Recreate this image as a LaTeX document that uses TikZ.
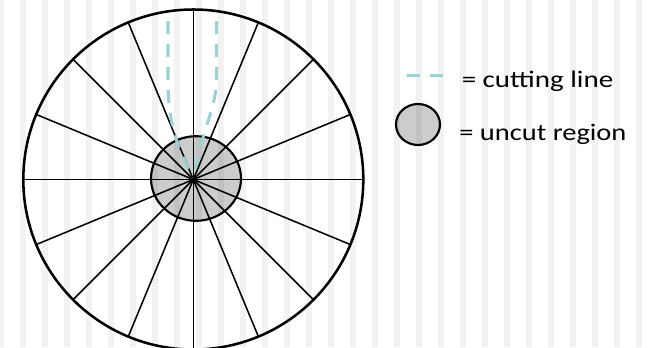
\documentclass[tikz,border=0pt]{standalone}
\usepackage{fontspec}
\setmainfont{Carlito}
\definecolor{stripe}{RGB}{242,242,242}
\definecolor{cutcol}{RGB}{155,210,214}
\tikzset{
  spoke/.style={line width=1.15pt, black},
  rim/.style={line width=1.9pt, black},
  uncut/.style={fill=black, fill opacity=0.2},
  uncutrim/.style={line width=1.6pt, black},
  cutline/.style={line width=2.3pt, cutcol, dash pattern=on 9.75pt off 7.5pt},
  legendtext/.style={anchor=base west, inner sep=0pt, font=\fontsize{17.8}{21}\selectfont}
}
\begin{document}
\begin{tikzpicture}[x=0.75pt,y=-0.75pt]
\useasboundingbox (0,0) rectangle (648,347);
\clip (0,0) rectangle (648,347);
\fill[white] (0,0) rectangle (648,347);
\foreach \k in {-1,...,28} {
  \fill[stripe] ({20+22*\k},0) rectangle ({26+22*\k},347);
}
\coordinate (c) at (193.3,179.5);
\coordinate (e) at (196,178.5);
% uncut region fill
\fill[uncut] (e) ellipse [x radius=45, y radius=42.3];
% spokes
\foreach \a in {0,22.5,...,337.5} {
  \draw[spoke] (c) -- ++({170*cos(\a)},{170*sin(\a)});
}
\draw[rim] (c) circle [radius=170];
\draw[uncutrim] (e) ellipse [x radius=45, y radius=42.3];
% cutting lines
\coordinate (l0) at (168,21);
\coordinate (l1) at (168,80);
\coordinate (r0) at (216.7,21);
\coordinate (r1) at (216.7,80);
\draw[cutline] (l0) -- (l1) .. controls (168,130) and (180,150) .. (192.5,178);
\draw[cutline] (r0) -- (r1) .. controls (216,110) and (198,140) .. (194.5,177);
% legend
\coordinate (lg0) at (407,75.7);
\coordinate (lg1) at (443,75.7);
\draw[cutline] (lg0) -- (lg1);
\node[legendtext] (t1) at (461.5,87.3) {\scalebox{1.22}[1]{= cutting line}};
\coordinate (le) at (418,124.5);
\fill[uncut] (le) ellipse [x radius=22, y radius=20.5];
\draw[uncutrim] (le) ellipse [x radius=22, y radius=20.5];
\node[legendtext] (t2) at (459,140.7) {\scalebox{1.2}[1]{= uncut region}};
\end{tikzpicture}
\end{document}
